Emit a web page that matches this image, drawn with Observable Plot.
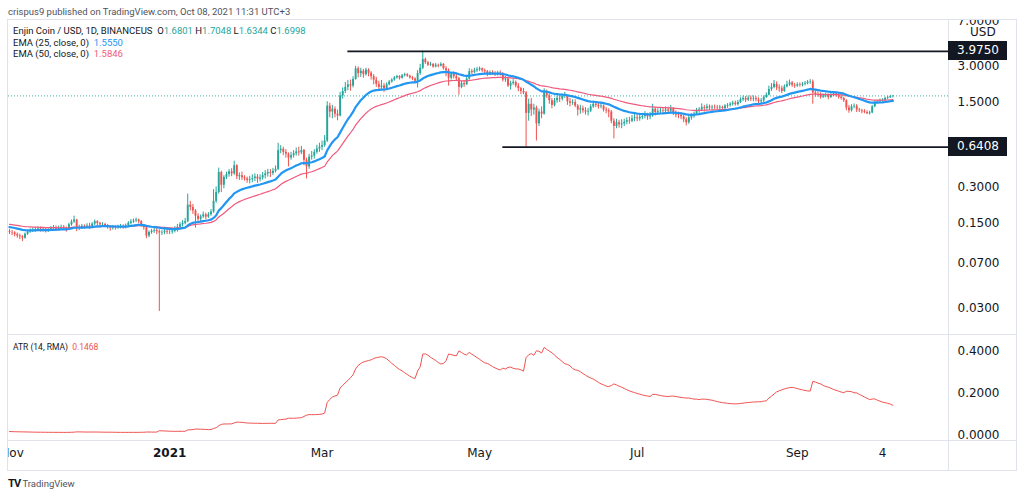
<!DOCTYPE html>
<html><head><meta charset="utf-8">
<script src="https://cdn.jsdelivr.net/npm/d3@7"></script>
<script src="https://cdn.jsdelivr.net/npm/@observablehq/plot@0.6"></script>
<style>
html,body{margin:0;padding:0;background:#fff;}
body{width:1024px;height:496px;position:relative;overflow:hidden;font-family:Roboto,sans-serif;}
.abs{position:absolute;white-space:nowrap;}
.leg{font-size:9.5px;line-height:12px;color:#131722;font-family:Roboto,sans-serif;}
.sep{position:absolute;background:#e0e3eb;}
.lvl{position:absolute;background:#131722;color:#fff;font:12px 'DejaVu Sans',sans-serif;line-height:19px;height:19px;width:59px;box-sizing:border-box;padding-left:9px;}
svg{overflow:hidden;}
</style></head><body>
<script>
// ---------- DATA ----------
const startDate = "2020-10-31";
const firstOpen = 0.128;
const closes = [
0.126,
0.125,0.121,0.118,0.116,0.113,0.122,0.127,0.130,0.131,0.133,0.135,0.132,0.134,0.131,0.133,0.136,0.138,0.134,0.137,0.139,0.136,0.134,0.146,0.154,0.160,0.137,0.139,0.142,0.140,0.143,
0.141,0.148,0.155,0.150,0.146,0.147,0.143,0.140,0.137,0.139,0.138,0.140,0.141,0.139,0.143,0.150,0.154,0.157,0.160,0.155,0.143,0.138,0.118,0.126,0.129,0.131,0.128,0.125,0.126,0.129,0.127,
0.127,0.129,0.134,0.139,0.146,0.150,0.155,0.212,0.203,0.190,0.172,0.162,0.170,0.176,0.169,0.177,0.186,0.228,0.270,0.395,0.310,0.360,0.380,0.400,0.385,0.450,0.365,0.372,0.358,0.350,0.340,
0.345,0.352,0.362,0.348,0.356,0.372,0.385,0.395,0.388,0.405,0.420,0.600,0.615,0.580,0.560,0.520,0.545,0.565,0.585,0.575,0.600,0.500,0.440,0.530,0.540,0.580,0.620,0.640,
0.66,0.72,1.40,1.25,1.32,1.20,1.16,1.70,1.85,2.00,2.10,2.05,2.32,2.85,2.60,2.72,2.55,2.78,2.62,2.45,2.30,2.12,2.00,2.05,1.95,2.10,2.22,2.30,2.40,2.46,2.38,
2.50,2.55,2.48,2.40,2.35,2.25,2.60,2.88,3.40,3.20,3.05,3.10,2.95,3.05,3.00,3.10,2.85,2.75,2.38,2.55,2.45,2.35,2.00,2.15,2.10,2.35,2.70,2.65,2.75,2.80,
2.85,2.75,2.70,2.55,2.65,2.60,2.55,2.62,2.58,2.30,2.35,2.05,2.15,2.20,2.05,1.95,1.85,1.80,1.22,1.45,1.30,1.35,1.00,1.25,1.20,1.85,1.70,1.55,1.42,1.55,1.62,
1.60,1.68,1.70,1.52,1.48,1.50,1.40,1.30,1.33,1.28,1.25,1.27,1.38,1.45,1.42,1.38,1.40,1.30,1.28,1.25,1.05,0.95,1.02,0.98,1.00,1.03,1.06,1.05,1.10,1.12,
1.10,1.13,1.15,1.18,1.14,1.16,1.32,1.24,1.26,1.28,1.27,1.30,1.27,1.33,1.22,1.18,1.17,1.14,1.08,1.02,1.12,1.15,1.20,1.28,1.30,1.36,1.34,1.38,1.35,1.37,1.36,
1.35,1.37,1.34,1.40,1.42,1.45,1.48,1.44,1.50,1.58,1.62,1.57,1.63,1.60,1.62,1.58,1.52,1.55,1.65,1.72,1.92,2.00,2.12,1.98,1.95,1.85,2.02,2.10,2.18,2.08,2.05,
2.10,2.08,2.12,2.15,2.20,2.22,1.80,1.75,1.72,1.66,1.70,1.74,1.65,1.72,1.76,1.72,1.66,1.62,1.55,1.35,1.28,1.38,1.40,1.30,1.28,1.26,1.24,1.21,1.23,1.38,
1.50,1.52,1.55,1.56,1.62,1.64,1.6801,1.6998
];
const highs = [
0.133,
0.131,0.128,0.125,0.122,0.119,0.125,0.131,0.135,0.137,0.139,0.141,0.140,0.139,0.137,0.138,0.141,0.144,0.143,0.142,0.145,0.144,0.140,0.150,0.160,0.172,0.162,0.145,0.147,0.146,0.149,
0.150,0.152,0.160,0.158,0.153,0.152,0.150,0.147,0.144,0.144,0.143,0.145,0.147,0.146,0.148,0.155,0.161,0.163,0.166,0.163,0.158,0.147,0.141,0.130,0.134,0.137,0.139,0.133,0.131,0.134,0.133,
0.133,0.136,0.141,0.147,0.152,0.158,0.165,0.262,0.228,0.215,0.195,0.180,0.176,0.186,0.182,0.184,0.195,0.285,0.300,0.430,0.405,0.372,0.398,0.418,0.425,0.490,0.458,0.392,0.398,0.372,0.362,
0.368,0.378,0.385,0.380,0.378,0.395,0.410,0.420,0.418,0.428,0.448,0.690,0.660,0.640,0.610,0.575,0.580,0.600,0.630,0.640,0.650,0.615,0.520,0.560,0.590,0.610,0.665,0.690,
0.72,0.80,1.52,1.48,1.42,1.38,1.30,1.82,1.98,2.20,2.28,2.30,2.45,2.98,2.95,2.88,2.82,2.88,2.85,2.70,2.55,2.42,2.25,2.28,2.15,2.18,2.28,2.36,2.46,2.52,2.50,
2.56,2.62,2.60,2.52,2.46,2.40,2.75,3.10,3.975,3.50,3.28,3.22,3.15,3.15,3.12,3.20,3.15,2.98,2.85,2.65,2.68,2.60,2.42,2.25,2.28,2.42,2.85,2.82,2.88,2.92,
2.95,2.90,2.84,2.76,2.74,2.74,2.70,2.72,2.74,2.65,2.46,2.42,2.25,2.32,2.26,2.15,2.00,1.96,1.85,1.60,1.62,1.45,1.40,1.32,1.38,1.95,1.90,1.75,1.62,1.62,1.70,
1.74,1.76,1.82,1.72,1.62,1.58,1.58,1.44,1.42,1.40,1.36,1.34,1.44,1.54,1.52,1.47,1.48,1.43,1.36,1.33,1.29,1.10,1.09,1.07,1.08,1.09,1.12,1.13,1.17,1.19,
1.19,1.20,1.22,1.26,1.22,1.24,1.45,1.36,1.33,1.36,1.35,1.38,1.37,1.42,1.36,1.28,1.25,1.23,1.18,1.12,1.17,1.21,1.25,1.34,1.36,1.46,1.42,1.45,1.43,1.42,1.43,
1.42,1.42,1.40,1.44,1.47,1.50,1.54,1.54,1.56,1.64,1.70,1.68,1.70,1.70,1.70,1.68,1.64,1.62,1.70,1.80,2.05,2.15,2.28,2.22,2.10,2.05,2.10,2.25,2.30,2.24,2.16,
2.18,2.18,2.20,2.24,2.28,2.32,2.30,1.88,1.84,1.80,1.76,1.80,1.77,1.78,1.82,1.82,1.76,1.72,1.66,1.58,1.42,1.44,1.46,1.44,1.34,1.32,1.31,1.28,1.27,1.42,
1.54,1.56,1.60,1.61,1.66,1.69,1.72,1.7048
];
const lows = [
0.121,
0.119,0.116,0.113,0.110,0.106,0.111,0.119,0.124,0.126,0.127,0.129,0.127,0.127,0.125,0.126,0.128,0.131,0.129,0.130,0.133,0.131,0.127,0.132,0.142,0.150,0.128,0.131,0.134,0.135,0.136,
0.134,0.138,0.144,0.143,0.141,0.141,0.138,0.134,0.129,0.132,0.132,0.134,0.135,0.134,0.135,0.140,0.146,0.150,0.152,0.149,0.139,0.132,0.112,0.114,0.122,0.124,0.121,0.028,0.119,0.121,0.121,
0.121,0.122,0.125,0.127,0.133,0.140,0.146,0.152,0.190,0.178,0.137,0.150,0.155,0.165,0.160,0.165,0.172,0.182,0.220,0.262,0.270,0.290,0.345,0.362,0.365,0.375,0.345,0.340,0.340,0.335,0.322,
0.318,0.325,0.333,0.322,0.330,0.342,0.350,0.362,0.360,0.372,0.392,0.410,0.565,0.545,0.520,0.440,0.500,0.520,0.540,0.540,0.555,0.450,0.350,0.420,0.500,0.510,0.560,0.580,
0.60,0.64,0.70,1.12,1.10,1.12,1.06,1.14,1.60,1.78,1.88,1.86,1.98,2.30,2.40,2.42,2.38,2.48,2.45,2.30,2.10,2.00,1.85,1.88,1.82,1.90,2.06,2.17,2.25,2.34,2.30,
2.34,2.44,2.42,2.34,2.28,2.18,1.98,2.52,2.80,3.10,2.98,2.98,2.88,2.90,2.90,2.95,2.78,2.45,2.05,2.30,2.35,2.25,1.72,1.95,2.00,2.08,2.30,2.55,2.60,2.66,
2.70,2.66,2.60,2.45,2.50,2.52,2.46,2.48,2.48,2.22,2.20,2.00,1.90,2.08,1.98,1.84,1.74,1.74,0.64,1.05,1.15,1.18,0.72,0.95,1.10,1.18,1.62,1.45,1.33,1.38,1.48,
1.50,1.54,1.62,1.42,1.38,1.42,1.36,1.16,1.20,1.22,1.18,1.16,1.24,1.34,1.36,1.32,1.33,1.25,1.21,1.12,1.00,0.75,0.91,0.92,0.91,0.95,0.98,0.99,1.02,1.04,
1.04,1.05,1.08,1.10,1.07,1.08,1.13,1.16,1.18,1.20,1.20,1.21,1.20,1.21,1.17,1.12,1.10,1.08,1.02,0.96,0.99,1.07,1.11,1.17,1.22,1.26,1.25,1.29,1.29,1.28,1.31,
1.30,1.30,1.28,1.30,1.34,1.37,1.40,1.40,1.40,1.47,1.53,1.50,1.53,1.53,1.52,1.52,1.47,1.46,1.50,1.62,1.70,1.85,1.95,1.88,1.82,1.78,1.82,1.98,2.04,2.00,1.96,
2.00,2.01,2.02,2.06,2.10,2.12,1.45,1.66,1.66,1.60,1.62,1.64,1.58,1.62,1.68,1.66,1.60,1.57,1.50,1.28,1.22,1.25,1.33,1.24,1.24,1.21,1.21,1.19,1.18,1.21,
1.36,1.47,1.50,1.51,1.54,1.58,1.62,1.6344
];
// indicator values read at the left edge of the picture (before the first bar)
const ema25Seed = 0.141;
const ema50Seed = 0.148;
const atrSeed = 0.018;
const levels = [3.975, 0.6408];
const levelStarts = ["2021-03-11", "2021-05-10"];
const lastClose = 1.6998;
const priceTicks = [7, 3, 1.5, 0.3, 0.15, 0.07, 0.03];
const atrTicks = [0, 0.2, 0.4];
const timeTickDates = ["2020-11-01","2021-01-01","2021-03-01","2021-05-01","2021-07-01","2021-09-01","2021-10-04"];
const timeTickLabels = ["Nov","2021","Mar","May","Jul","Sep","4"];
const headerText = "crispus9 published on TradingView.com, Oct 08, 2021 11:31 UTC+3";
const symbolText = "Enjin Coin / USD, 1D, BINANCEUS";
const ohlcLabels = ["O","H","L","C"];
const ohlcValues = ["1.6801","1.7048","1.6344","1.6998"];
const emaLabels = ["EMA (25, close, 0)","EMA (50, close, 0)"];
const emaValues = ["1.5550","1.5846"];
const atrLabel = "ATR (14, RMA)";
const atrValue = "0.1468";

// ---------- BUILD ----------
const UP = "#26a69a", DOWN = "#ef5350", EMA25C = "#2196f3", EMA50C = "#f05a7e", ATRC = "#ef5350", INK = "#131722";
const DAY = 864e5;
const t0 = Date.parse(startDate + "T00:00:00Z");
const bars = closes.map((c, i) => ({
  date: new Date(t0 + i * DAY),
  open: i ? closes[i - 1] : firstOpen,
  high: highs[i], low: lows[i], close: c
}));
let e25 = ema25Seed, e50 = ema50Seed, atr = atrSeed;
bars.forEach((b, i) => {
  b.up = b.close >= b.open;
  e25 = (2 / 26) * b.close + (24 / 26) * e25;
  e50 = (2 / 51) * b.close + (49 / 51) * e50;
  const pc = i ? bars[i - 1].close : b.open;
  const tr = Math.max(b.high - b.low, Math.abs(b.high - pc), Math.abs(b.low - pc));
  atr = (atr * 13 + tr) / 14;
  b.ema25 = e25; b.ema50 = e50; b.atr = atr;
});
const upBars = bars.filter(b => b.up), downBars = bars.filter(b => !b.up);
const xDomain = [new Date(Date.UTC(2020, 9, 30, 14, 38)), new Date(Date.UTC(2021, 9, 29, 13, 0))];
const levelData = levels.map((v, i) => ({value: v, start: new Date(levelStarts[i] + "T00:00:00Z"), end: xDomain[1]}));
const timeTicks = timeTickDates.map((d, i) => ({date: new Date(d + "T00:00:00Z"), label: timeTickLabels[i]}));
const fmt = d3.format(".4f");
const axisStyle = {fontFamily: "'DejaVu Sans', sans-serif", fontSize: "12px", color: INK, background: "transparent", overflow: "hidden"};

const main = Plot.plot({
  width: 1008, height: 315, marginLeft: 0, marginRight: 68, marginTop: 0, marginBottom: 0,
  style: axisStyle,
  x: {type: "utc", domain: xDomain, axis: null},
  y: {type: "log", domain: [0.01806, 7.29], axis: null},
  marks: [
    Plot.ruleY([lastClose], {stroke: UP, strokeDasharray: "1,2", strokeWidth: 1, strokeOpacity: 0.9}),
    Plot.ruleX(upBars, {x: "date", y1: "low", y2: "high", stroke: UP, strokeWidth: 1}),
    Plot.ruleX(downBars, {x: "date", y1: "low", y2: "high", stroke: DOWN, strokeWidth: 1}),
    Plot.ruleX(upBars, {x: "date", y1: "open", y2: "close", stroke: UP, strokeWidth: 1.9}),
    Plot.ruleX(downBars, {x: "date", y1: "open", y2: "close", stroke: DOWN, strokeWidth: 1.9}),
    Plot.line(bars, {x: "date", y: "ema50", stroke: EMA50C, strokeWidth: 1.2}),
    Plot.line(bars, {x: "date", y: "ema25", stroke: EMA25C, strokeWidth: 2.2}),
    Plot.ruleY(levelData, {y: "value", x1: "start", x2: "end", stroke: INK, strokeWidth: 1.6}),
    Plot.text(priceTicks, {y: d => d, text: d => fmt(d), frameAnchor: "right", dx: 9, textAnchor: "start", fill: INK, fontSize: 12})
  ]
});

const atrPlot = Plot.plot({
  width: 1008, height: 136, marginLeft: 0, marginRight: 68, marginTop: 0, marginBottom: 30,
  style: axisStyle,
  x: {type: "utc", domain: xDomain, axis: null},
  y: {domain: [-0.0298, 0.4744], axis: null},
  marks: [
    Plot.line(bars, {x: "date", y: "atr", stroke: ATRC, strokeWidth: 1}),
    Plot.text(atrTicks, {y: d => d, text: d => fmt(d), frameAnchor: "right", dx: 9, textAnchor: "start", fill: INK, fontSize: 12}),
    Plot.text(timeTicks.filter(d => d.label !== "2021"), {x: "date", text: "label", frameAnchor: "bottom", dy: 15, fill: INK, fontSize: 12}),
    Plot.text(timeTicks.filter(d => d.label === "2021"), {x: "date", text: "label", frameAnchor: "bottom", dy: 15, fill: INK, fontSize: 12, fontWeight: "bold"})
  ]
});

function place(el, left, top) { el.style.position = "absolute"; el.style.left = left + "px"; el.style.top = top + "px"; document.body.appendChild(el); return el; }
function div(cls, html, left, top, extra) { const d = document.createElement("div"); d.className = cls; d.innerHTML = html; if (extra) Object.assign(d.style, extra); return place(d, left, top); }

const MAIN_TOP = 19, ATR_TOP = 335;
place(main, 8, MAIN_TOP);
place(atrPlot, 8, ATR_TOP);

// frame and separators
div("sep", "", 7, 19, {width: "1010px", height: "1px"});
div("sep", "", 7, 470, {width: "1010px", height: "1px"});
div("sep", "", 7, 19, {width: "1px", height: "452px"});
div("sep", "", 1016, 19, {width: "1px", height: "452px"});
div("sep", "", 948, 19, {width: "1px", height: "452px"});
div("sep", "", 7, 334, {width: "1010px", height: "1px"});
div("sep", "", 7, 440, {width: "1010px", height: "1px"});

// level labels on the price axis, positioned with the plot's y scale
const ys = main.scale("y");
levels.forEach(v => {
  const y = MAIN_TOP + ys.apply(v);
  div("lvl", fmt(v), 948, Math.round(y - 9.5));
});
// USD unit label
div("abs", "USD", 968, 25, {background: "#fff", font: "12px 'DejaVu Sans',sans-serif", color: INK, lineHeight: "14px", padding: "0 2px"});

// header & legends
div("abs leg", headerText, 8, 6, {color: "#50535e"});
const ohlc = ohlcLabels.map((l, i) => `${l}<span style="color:${UP}">${ohlcValues[i]}</span>`).join(" ");
div("abs leg", `${symbolText}&nbsp;&nbsp;${ohlc}`, 13, 25);
div("abs leg", `${emaLabels[0]}&nbsp;&nbsp;<span style="color:${EMA25C}">${emaValues[0]}</span>`, 13, 36.5);
div("abs leg", `${emaLabels[1]}&nbsp;&nbsp;<span style="color:${EMA50C}">${emaValues[1]}</span>`, 13, 47.5);
div("abs leg", `${atrLabel}&nbsp;&nbsp;<span style="color:${ATRC}">${atrValue}</span>`, 13, 341, {fontSize: "8.5px"});
// TradingView mark
div("abs", `<b style="color:${INK};font-size:11px;letter-spacing:-1px">TV</b>&nbsp;<span style="color:#50535e">TradingView</span>`, 8, 478, {fontSize: "9.5px", fontFamily: "Roboto,sans-serif", lineHeight: "12px"});
</script>
</body></html>
